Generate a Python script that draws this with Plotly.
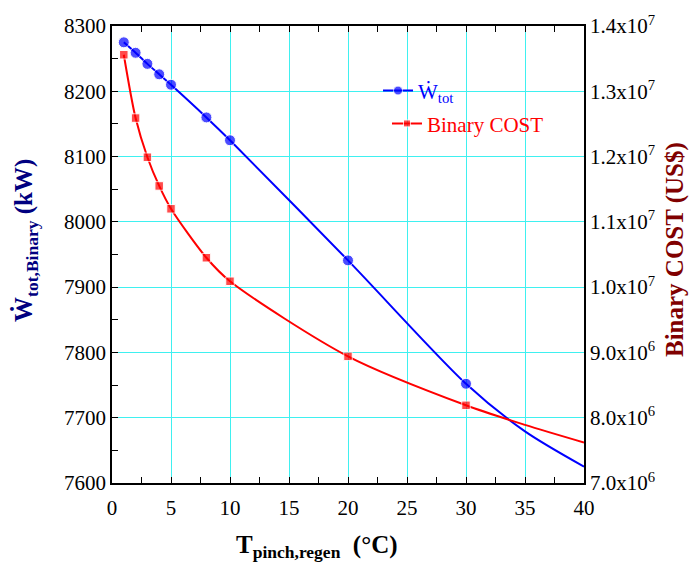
import plotly.graph_objects as go

# Pinch temperature difference in the regenerator (°C)
t_pinch = [1, 2, 3, 4, 5, 8, 10, 20, 30]
# Total binary-cycle net power (kW)
w_tot = [8275, 8259, 8242, 8226, 8210, 8160, 8125, 7941, 7752]
# Binary plant cost (US$)
binary_cost = [1.356e7, 1.259e7, 1.199e7, 1.155e7, 1.120e7, 1.045e7, 1.009e7, 8.94e6, 8.19e6]

# Fitted-curve continuation beyond the last computed case (no markers)
t_tail = [35, 40]
w_tail = [7679, 7625]
cost_tail = [7.89e6, 7.62e6]

cost_ticks = [7.0e6, 8.0e6, 9.0e6, 1.0e7, 1.1e7, 1.2e7, 1.3e7, 1.4e7]
cost_ticktext = ["7.0x10<sup>6</sup>", "8.0x10<sup>6</sup>", "9.0x10<sup>6</sup>",
                 "1.0x10<sup>7</sup>", "1.1x10<sup>7</sup>", "1.2x10<sup>7</sup>",
                 "1.3x10<sup>7</sup>", "1.4x10<sup>7</sup>"]

FONT = "Liberation Serif, Times New Roman, serif"
GRID = "#3FF0F0"
TICKFONT = dict(size=21, family=FONT, color="black")

x_all = t_pinch + t_tail
fig = go.Figure()

fig.add_trace(go.Scatter(
    x=x_all, y=w_tot + w_tail, mode="lines+markers", legend="legend",
    name='<span style="color:#0000FF">Ẇ<sub>tot</sub></span>',
    line=dict(color="#0000FF", width=2, shape="spline", smoothing=0.8),
    marker=dict(symbol="circle", color="#0000FF",
                size=[11] * len(t_pinch) + [0] * len(t_tail)),
))

fig.add_trace(go.Scatter(
    x=x_all, y=binary_cost + cost_tail, mode="lines+markers", yaxis="y2",
    legend="legend2",
    name='<span style="color:#FF0000">Binary COST</span>',
    line=dict(color="#FF0000", width=2, shape="spline", smoothing=0.8),
    marker=dict(symbol="square", color="#FF0000",
                size=[8.5] * len(t_pinch) + [0] * len(t_tail)),
))

legend_common = dict(xanchor="left", yanchor="middle", bgcolor="rgba(0,0,0,0)",
                     font=dict(size=21, family=FONT), itemwidth=30)

fig.update_layout(
    width=694, height=566,
    margin=dict(l=112, r=110, t=24, b=83),
    paper_bgcolor="white", plot_bgcolor="white",
    font=dict(family=FONT, size=21, color="black"),
    showlegend=True,
    legend=dict(x=0.5636, y=0.858, **legend_common),
    legend2=dict(x=0.5826, y=0.786, **legend_common),
    xaxis=dict(
        range=[0, 40], dtick=5, tick0=0,
        showgrid=True, gridcolor=GRID, gridwidth=1.2,
        showline=True, linecolor="black", linewidth=1.5, mirror="ticks",
        ticks="inside", ticklen=6, tickcolor="black",
        minor=dict(dtick=2.5, ticks="inside", ticklen=6, tickcolor="black", showgrid=False),
        zeroline=False, tickfont=TICKFONT, ticklabelstandoff=5,
    ),
    yaxis=dict(
        range=[7600, 8300], dtick=100, tick0=7600,
        showgrid=True, gridcolor=GRID, gridwidth=1.2,
        showline=True, linecolor="black", linewidth=1.5,
        ticks="inside", ticklen=6, tickcolor="black",
        minor=dict(dtick=50, ticks="inside", ticklen=6, tickcolor="black", showgrid=False),
        zeroline=False, tickfont=TICKFONT,
    ),
    yaxis2=dict(
        range=[7.0e6, 1.4e7], overlaying="y", side="right",
        tickvals=cost_ticks, ticktext=cost_ticktext,
        showgrid=False, showline=True, linecolor="black", linewidth=1.5,
        ticks="", zeroline=False, tickfont=TICKFONT,
    ),
)

# Axis titles
fig.add_annotation(
    text="<b>T<sub>pinch,regen</sub>  (°C)</b>", xref="paper", yref="paper",
    x=0.434, y=-0.138, xanchor="center", yanchor="middle", showarrow=False,
    font=dict(size=25, color="black", family=FONT),
)
fig.add_annotation(
    text="<b>Ẇ<sub>tot,Binary</sub> (kW)</b>", xref="paper", yref="paper",
    x=-0.182, y=0.53, xanchor="center", yanchor="middle", showarrow=False,
    textangle=-90, font=dict(size=25, color="#000080", family=FONT),
)
fig.add_annotation(
    text="<b>Binary COST (US$)</b>", xref="paper", yref="paper",
    x=1.193, y=0.51, xanchor="center", yanchor="middle", showarrow=False,
    textangle=-90, font=dict(size=25, color="#800000", family=FONT),
)

fig.write_html("out.html")
